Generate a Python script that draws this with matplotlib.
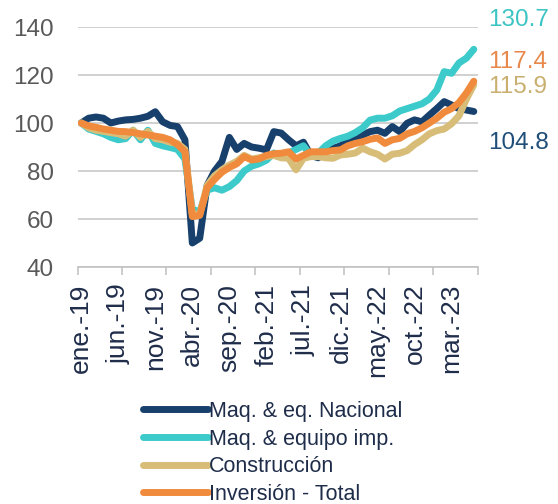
import matplotlib
matplotlib.use("Agg")
import matplotlib.pyplot as plt

plt.rcParams['font.family'] = ['Liberation Sans', 'DejaVu Sans']

# monthly index, ene-19 .. jun-23 (ene-19 = 100)
months = list(range(54))
tick_labels = ['ene.-19', 'jun.-19', 'nov.-19', 'abr.-20', 'sep.-20', 'feb.-21',
               'jul.-21', 'dic.-21', 'may.-22', 'oct.-22', 'mar.-23']

nacional = [100, 102, 102.5, 102, 100, 100.8, 101.3, 101.5, 102, 102.8,
            104.7, 100.5, 99, 98.5, 93, 50, 52, 74, 80, 84,
            94, 89, 91.5, 90, 89.5, 88.8, 96.4, 95.8, 93, 90.5,
            92, 86.5, 85.5, 88.7, 89.4, 90.5, 92.5, 94, 95, 96.4,
            97, 95.7, 98.5, 96.4, 99.9, 101.3, 100.5, 103.3, 106, 108.9,
            107.5, 106, 105.4, 104.8]
importado = [100, 97.5, 96.5, 95.5, 94, 93, 93.5, 97, 93, 97,
             91.5, 90.5, 89.8, 89, 85, 64, 63, 72, 73, 72,
             73.5, 76, 80, 82, 83, 84.5, 87.5, 86.5, 87.5, 89,
             90.5, 86.5, 87.4, 90.5, 92.5, 93.6, 94.5, 96, 98, 101.2,
             102, 102, 103, 105, 106, 107, 108, 110, 113.7, 121.4,
             120.7, 125, 127, 130.7]
construccion = [100, 98, 97, 96.5, 96, 95.5, 94.5, 97, 94, 96.5,
                93.5, 93, 92, 91.5, 89, 62, 62, 74, 78, 80.5,
                82.5, 84, 86.5, 85, 85.5, 86, 86.5, 85.5, 85.3, 80.5,
                85.3, 86, 86, 85.5, 85.3, 86.7, 87, 87.5, 89.5, 88,
                87, 85, 87, 87.4, 88.5, 91, 93, 95.5, 96.8, 97.5,
                99.7, 103, 110, 115.9]
total = [100, 98.8, 98.2, 97.5, 97, 96.5, 96.4, 96, 95.5, 95,
         94.5, 94, 93, 91, 88, 61, 61.5, 73, 76.5, 79.5,
         81.5, 83, 86, 84.6, 85, 86.5, 87.2, 87.4, 88, 85,
         86.5, 88, 88, 88, 88.5, 88.8, 90.5, 91.5, 92.2, 93.2,
         93.8, 91.5, 93, 93.6, 95.5, 96.5, 98, 100, 102, 104.5,
         106, 108.5, 112.5, 117.4]

series = [
    ("Maq. & eq. Nacional", nacional, "#17406d", "#1f4e79", -32),
    ("Maq. & equipo imp.", importado, "#3ccaca", "#3cc4c4", 29),
    ("Construcción", construccion, "#d8bd78", "#c9b070", -2),
    ("Inversión - Total", total, "#f08a3c", "#e8884a", 19),
]

fig = plt.figure(figsize=(5.58, 5.04), dpi=100)
ax = fig.add_axes([77.5 / 558, 1 - 267 / 504, 400 / 558, 240 / 504])

for name, vals, col, lab_col, dy in series:
    ax.plot(months, vals, color=col, lw=5, label=name,
            solid_capstyle="round", solid_joinstyle="round")
    ax.annotate(f"{vals[-1]:.1f}", xy=(months[-1], vals[-1]),
                xytext=(14, dy), textcoords="offset pixels",
                color=lab_col, fontsize=17.5, ha="left", va="center",
                annotation_clip=False)

ax.set_ylim(40, 140)
ax.set_yticks(range(40, 141, 20))
ax.set_xlim(-0.5, 53.5)
ax.grid(axis="y", color="#c4c4c4", lw=1.1)
ax.set_axisbelow(True)

for s in ["left", "right", "top"]:
    ax.spines[s].set_visible(False)
ax.spines["bottom"].set_color("#bfbfbf")
ax.spines["bottom"].set_linewidth(1.1)

ax.tick_params(axis="y", length=0, pad=17, labelsize=17.5, labelcolor="#595959")

# tick marks every 6 months, labels every 5 months
ax.set_xticks([k * 6 - 0.5 for k in range(10)])
ax.set_xticklabels([])
ax.tick_params(axis="x", which="major", length=6, width=1.1, color="#bfbfbf")
ax.set_xticks(months[::5], minor=True)
ax.set_xticklabels(tick_labels, minor=True)
ax.tick_params(axis="x", which="minor", length=0, pad=12, labelsize=19,
               labelrotation=90, labelcolor="#1f2d4a")

fig.legend(loc="upper left", bbox_to_anchor=(143 / 558, 1 - 401 / 504),
           frameon=False, fontsize=15.5, handlelength=3.0, handletextpad=0.05,
           labelspacing=0.31, borderpad=0, borderaxespad=0,
           labelcolor="#1f2d4a")

fig.savefig("out.png", dpi=100)
